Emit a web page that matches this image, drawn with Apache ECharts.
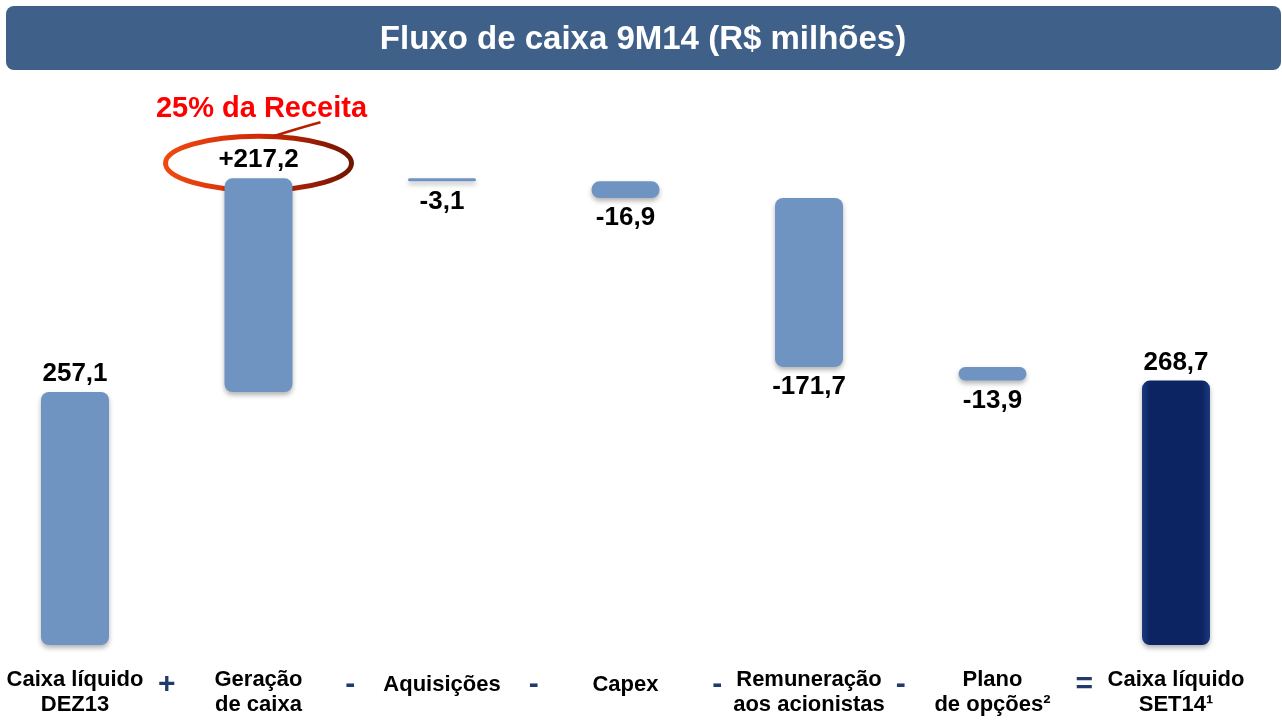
<!DOCTYPE html>
<html>
<head>
<meta charset="utf-8">
<script src="https://cdn.jsdelivr.net/npm/echarts@6/dist/echarts.min.js"></script>
<style>
  html, body { margin: 0; padding: 0; background: #fff; }
  #chart { width: 1282px; height: 724px; }
</style>
</head>
<body>
<div id="chart"></div>
<script>
// waterfall data, R$ milhões
const categories = ['Caixa líquido\nDEZ13', 'Geração\nde caixa', 'Aquisições', 'Capex', 'Remuneração\naos acionistas', 'Plano\nde opções²', 'Caixa líquido\nSET14¹'];
const amounts = [257.1, 217.2, -3.1, -16.9, -171.7, -13.9, 268.7];
const isTotal = [true, false, false, false, false, false, true];
const operators = ['+', '-', '-', '-', '-', '='];
const titleText = 'Fluxo de caixa 9M14 (R$ milhões)';
const highlightText = '25% da Receita';

const FONT = '"Liberation Sans", Arial, sans-serif';
const LIGHT = '#6f94c2';
const DARK = '#0c2461';

// invisible base + visible part of each step
let running = 0;
const baseData = [];
const stepData = [];
amounts.forEach((v, i) => {
  if (isTotal[i]) {
    baseData.push(0);
    running = v;
    stepData.push(v);
  } else if (v >= 0) {
    baseData.push(running);
    running += v;
    stepData.push(v);
  } else {
    running += v;
    baseData.push(+running.toFixed(1));
    stepData.push(-v);
  }
});

const fmt = v => Math.abs(v).toFixed(1).replace('.', ',');

const chart = echarts.init(document.getElementById('chart'));

const labelFont = { fontFamily: FONT, fontWeight: 'bold', fontSize: 22, color: '#000' };

const option = {
  animation: false,
  grid: { left: 75, right: 106, top: 153, bottom: 79 },
  xAxis: {
    type: 'category',
    data: categories,
    boundaryGap: false,
    axisLine: { show: false },
    axisTick: { show: false },
    axisLabel: Object.assign({
      interval: 0,
      margin: 47,
      verticalAlign: 'middle',
      lineHeight: 25,
      // one-line names sit a little higher than the centre of two-line ones
      formatter: v => v.indexOf('\n') >= 0 ? v : '{s|' + v + '}',
      rich: { s: Object.assign({ padding: [0, 0, 14, 0] }, labelFont) }
    }, labelFont)
  },
  yAxis: { type: 'value', min: 0, max: 500, show: false },
  series: [
    {
      type: 'bar',
      stack: 'wf',
      clip: false,
      barWidth: 68,
      itemStyle: { color: 'transparent' },
      silent: true,
      data: baseData
    },
    {
      type: 'bar',
      stack: 'wf',
      clip: false,
      barWidth: 68,
      data: stepData.map((h, i) => {
        const total = isTotal[i];
        const neg = !total && amounts[i] < 0;
        return {
          value: h,
          itemStyle: {
            color: i === amounts.length - 1
              ? new echarts.graphic.LinearGradient(0, 0, 1, 0, [
                  { offset: 0, color: '#1b3a7e' },
                  { offset: 0.12, color: DARK },
                  { offset: 0.88, color: DARK },
                  { offset: 1, color: '#1b3a7e' }
                ])
              : LIGHT,
            borderRadius: h > 10 ? 8 : 2,
            shadowBlur: 5,
            shadowOffsetY: 3,
            shadowColor: 'rgba(0,0,0,0.3)'
          },
          label: {
            show: true,
            position: neg ? 'bottom' : 'top',
            distance: neg ? 7 : 5,
            formatter: (total ? '' : (neg ? '-' : '+')) + fmt(amounts[i]),
            fontFamily: FONT,
            fontWeight: 'bold',
            fontSize: 26,
            color: '#000'
          }
        };
      })
    }
  ],
  graphic: [
    {
      type: 'rect',
      shape: { x: 6, y: 6, width: 1275, height: 64, r: 8 },
      style: { fill: '#3f6089' }
    },
    {
      type: 'text',
      x: 643, y: 40,
      style: {
        text: titleText,
        fill: '#fff',
        font: 'bold 33px ' + FONT,
        align: 'center',
        verticalAlign: 'middle'
      }
    }
  ]
};

chart.setOption(option);

// operators between categories and the highlight around the cash generation step
const px = operators.map((op, i) => {
  const a = chart.convertToPixel({ xAxisIndex: 0 }, i);
  const b = chart.convertToPixel({ xAxisIndex: 0 }, i + 1);
  return (a + b) / 2;
});
const gx = chart.convertToPixel({ xAxisIndex: 0 }, 1);
const topY = chart.convertToPixel({ yAxisIndex: 0 }, baseData[1] + stepData[1]);

chart.setOption({
  graphic: option.graphic.concat(
    operators.map((op, i) => ({
      type: 'text',
      x: px[i], y: 685,
      style: {
        text: op,
        fill: '#1f3a6b',
        font: 'bold 30px ' + FONT,
        align: 'center',
        verticalAlign: 'middle'
      }
    })),
    [
      {
        type: 'ellipse',
        shape: { cx: gx, cy: topY - 15, rx: 93, ry: 27 },
        style: {
          fill: 'none',
          lineWidth: 5,
          stroke: new echarts.graphic.LinearGradient(0, 0, 1, 0, [
            { offset: 0, color: '#f04a10' },
            { offset: 0.5, color: '#d02a08' },
            { offset: 1, color: '#6e1400' }
          ])
        }
      },
      {
        type: 'bezierCurve',
        shape: {
          x1: gx + 15, y1: topY - 42,
          cpx1: gx + 40, cpy1: topY - 50,
          x2: gx + 62, y2: topY - 56
        },
        style: { stroke: '#b42000', lineWidth: 2.5, fill: 'none' }
      },
      {
        type: 'text',
        x: gx + 3, y: topY - 69,
        style: {
          text: highlightText,
          fill: '#ff0000',
          font: 'bold 29px ' + FONT,
          align: 'center',
          verticalAlign: 'middle'
        }
      }
    ]
  )
});
</script>
</body>
</html>
